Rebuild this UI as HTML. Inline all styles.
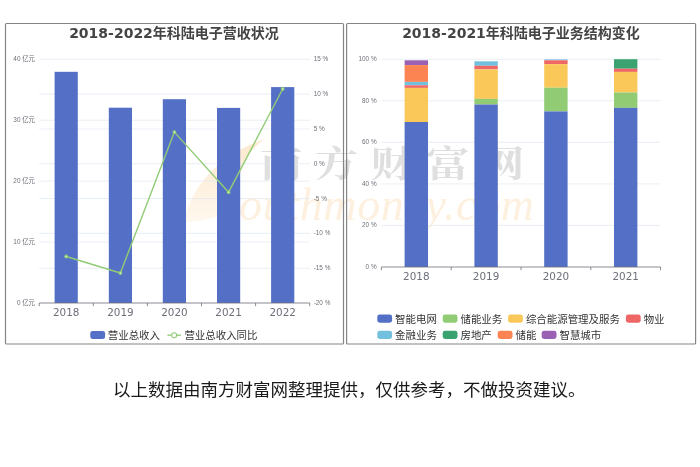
<!DOCTYPE html>
<html lang="zh-CN"><head><meta charset="utf-8"><title>科陆电子</title>
<style>
html,body{margin:0;padding:0;background:#fff;}
body{width:700px;height:467px;overflow:hidden;position:relative;}
svg{position:absolute;left:0;top:0;display:block;will-change:transform;}
.ttl{font-family:"DejaVu Sans","Liberation Sans","Noto Sans CJK SC",sans-serif;font-weight:bold;font-size:14px;fill:#444;}
.xl{font-family:"DejaVu Sans","Liberation Sans",sans-serif;font-size:10.4px;fill:#6e7079;}
.yl{font-family:"Liberation Sans","Noto Sans CJK SC",sans-serif;font-size:6.4px;fill:#6e7079;}
.lg{font-family:"Liberation Sans","Noto Sans CJK SC",sans-serif;font-size:10.45px;fill:#333;}
.cap{font-family:"Liberation Sans","Noto Sans CJK SC",sans-serif;font-size:17.5px;fill:#1a1a1a;}
</style></head><body>
<svg width="700" height="467" viewBox="0 0 700 467">
<rect x="0" y="0" width="700" height="467" fill="#fff"/>
<defs><linearGradient id="cg" x1="0" y1="0" x2="0" y2="1"><stop offset="0" stop-color="#fde9cf"/><stop offset="0.6" stop-color="#fef1e0"/><stop offset="1" stop-color="#fff8ef"/></linearGradient></defs>
<path d="M184 222 C 189 195, 211 157, 265 139 C 246 151, 236 175, 238 196 C 234 212, 212 222, 184 222 Z" fill="url(#cg)"/>
<text transform="translate(259.6,177) scale(1.2,1)" font-family="'Noto Serif CJK SC','Noto Sans CJK SC',serif" font-weight="bold" font-size="36" letter-spacing="10.2" fill="#dfdfdf">南方财富网</text>
<text x="239" y="219.5" font-family="'Liberation Serif',serif" font-style="italic" font-size="46" textLength="295" lengthAdjust="spacing" fill="#fdf0de">outhmoney.com</text>
<g fill="none" stroke="#858585" stroke-width="1.2">
<rect x="5.5" y="23.5" width="338" height="320.5" rx="1"/>
<rect x="346.6" y="23.5" width="349" height="320.5" rx="1"/>
</g>
<g stroke="#e0e6f1" stroke-width="0.7">
<line x1="39.2" y1="59.3" x2="309.7" y2="59.3"/>
<line x1="39.2" y1="94.11" x2="309.7" y2="94.11"/>
<line x1="39.2" y1="120.22" x2="309.7" y2="120.22"/>
<line x1="39.2" y1="128.93" x2="309.7" y2="128.93"/>
<line x1="39.2" y1="163.74" x2="309.7" y2="163.74"/>
<line x1="39.2" y1="181.15" x2="309.7" y2="181.15"/>
<line x1="39.2" y1="198.56" x2="309.7" y2="198.56"/>
<line x1="39.2" y1="233.37" x2="309.7" y2="233.37"/>
<line x1="39.2" y1="242.07" x2="309.7" y2="242.07"/>
<line x1="39.2" y1="268.19" x2="309.7" y2="268.19"/>
</g>
<g fill="#5470c6">
<rect x="54.6" y="71.8" width="23.2" height="231.2"/>
<rect x="108.8" y="107.7" width="23.2" height="195.3"/>
<rect x="162.8" y="99.2" width="23.2" height="203.8"/>
<rect x="217.0" y="107.9" width="23.2" height="195.1"/>
<rect x="271.1" y="87.1" width="23.2" height="215.9"/>
</g>
<g stroke="#6e7079" stroke-width="0.8" fill="none">
<line x1="39.2" y1="303.0" x2="309.7" y2="303.0"/>
<line x1="39.2" y1="303.0" x2="39.2" y2="306.2"/>
<line x1="93.3" y1="303.0" x2="93.3" y2="306.2"/>
<line x1="147.4" y1="303.0" x2="147.4" y2="306.2"/>
<line x1="201.5" y1="303.0" x2="201.5" y2="306.2"/>
<line x1="255.6" y1="303.0" x2="255.6" y2="306.2"/>
<line x1="309.7" y1="303.0" x2="309.7" y2="306.2"/>
</g>
<polyline points="66.2,256.5 120.4,273.0 174.4,132.1 228.6,192.2 282.7,89.0" fill="none" stroke="#91cc75" stroke-width="1.4" stroke-linejoin="round"/>
<circle cx="66.2" cy="256.5" r="1.35" fill="#dff2d5" stroke="#91cc75" stroke-width="1.1"/>
<circle cx="120.4" cy="273.0" r="1.35" fill="#dff2d5" stroke="#91cc75" stroke-width="1.1"/>
<circle cx="174.4" cy="132.1" r="1.35" fill="#dff2d5" stroke="#91cc75" stroke-width="1.1"/>
<circle cx="228.6" cy="192.2" r="1.35" fill="#dff2d5" stroke="#91cc75" stroke-width="1.1"/>
<circle cx="282.7" cy="89.0" r="1.35" fill="#dff2d5" stroke="#91cc75" stroke-width="1.1"/>
<text class="xl" x="66.2" y="316.2" text-anchor="middle">2018</text>
<text class="xl" x="120.4" y="316.2" text-anchor="middle">2019</text>
<text class="xl" x="174.4" y="316.2" text-anchor="middle">2020</text>
<text class="xl" x="228.6" y="316.2" text-anchor="middle">2021</text>
<text class="xl" x="282.7" y="316.2" text-anchor="middle">2022</text>
<text class="yl" x="35" y="61.3" text-anchor="end">40 亿元</text>
<text class="yl" x="35" y="122.2" text-anchor="end">30 亿元</text>
<text class="yl" x="35" y="183.1" text-anchor="end">20 亿元</text>
<text class="yl" x="35" y="244.1" text-anchor="end">10 亿元</text>
<text class="yl" x="35" y="305.0" text-anchor="end">0 亿元</text>
<text class="yl" x="313.7" y="61.3">15 %</text>
<text class="yl" x="313.7" y="96.1">10 %</text>
<text class="yl" x="313.7" y="130.9">5 %</text>
<text class="yl" x="313.7" y="165.7">0 %</text>
<text class="yl" x="313.7" y="200.6">-5 %</text>
<text class="yl" x="313.7" y="235.4">-10 %</text>
<text class="yl" x="313.7" y="270.2">-15 %</text>
<text class="yl" x="313.7" y="305.0">-20 %</text>
<text class="ttl" x="174" y="38.4" text-anchor="middle">2018-2022年科陆电子营收状况</text>
<rect x="90.3" y="330.9" width="14.8" height="8.2" rx="2.4" fill="#5470c6"/>
<text class="lg" x="107.8" y="338.9">营业总收入</text>
<line x1="167.4" y1="335.2" x2="181" y2="335.2" stroke="#91cc75" stroke-width="1.3"/>
<circle cx="174.2" cy="335.2" r="2.5" fill="#fff" stroke="#91cc75" stroke-width="1.1"/>
<text class="lg" x="184.4" y="338.9">营业总收入同比</text>
<g stroke="#e0e6f1" stroke-width="0.7">
<line x1="381.4" y1="59.2" x2="660.6" y2="59.2"/>
<line x1="381.4" y1="100.8" x2="660.6" y2="100.8"/>
<line x1="381.4" y1="142.3" x2="660.6" y2="142.3"/>
<line x1="381.4" y1="183.9" x2="660.6" y2="183.9"/>
<line x1="381.4" y1="225.4" x2="660.6" y2="225.4"/>
</g>
<rect x="404.6" y="60.3" width="23.4" height="4.8" fill="#9a60b4"/>
<rect x="404.6" y="65.1" width="23.4" height="16.8" fill="#fc8452"/>
<rect x="404.6" y="81.9" width="23.4" height="3.4" fill="#73c0de"/>
<rect x="404.6" y="85.3" width="23.4" height="2.6" fill="#ee6666"/>
<rect x="404.6" y="87.9" width="23.4" height="34.1" fill="#fac858"/>
<rect x="404.6" y="122.0" width="23.4" height="145.0" fill="#5470c6"/>
<rect x="474.4" y="61.3" width="23.4" height="4.5" fill="#73c0de"/>
<rect x="474.4" y="65.8" width="23.4" height="3.6" fill="#ee6666"/>
<rect x="474.4" y="69.4" width="23.4" height="29.5" fill="#fac858"/>
<rect x="474.4" y="98.9" width="23.4" height="5.6" fill="#91cc75"/>
<rect x="474.4" y="104.5" width="23.4" height="162.5" fill="#5470c6"/>
<rect x="544.2" y="59.4" width="23.4" height="0.9" fill="#73c0de"/>
<rect x="544.2" y="60.3" width="23.4" height="3.8" fill="#ee6666"/>
<rect x="544.2" y="64.1" width="23.4" height="23.6" fill="#fac858"/>
<rect x="544.2" y="87.7" width="23.4" height="23.7" fill="#91cc75"/>
<rect x="544.2" y="111.4" width="23.4" height="155.6" fill="#5470c6"/>
<rect x="614.0" y="59.2" width="23.4" height="9.5" fill="#3ba272"/>
<rect x="614.0" y="68.7" width="23.4" height="3.2" fill="#ee6666"/>
<rect x="614.0" y="71.9" width="23.4" height="20.6" fill="#fac858"/>
<rect x="614.0" y="92.5" width="23.4" height="15.3" fill="#91cc75"/>
<rect x="614.0" y="107.8" width="23.4" height="159.2" fill="#5470c6"/>
<g stroke="#6e7079" stroke-width="0.8" fill="none">
<line x1="381.4" y1="267.0" x2="660.6" y2="267.0"/>
<line x1="381.4" y1="267.0" x2="381.4" y2="270.2"/>
<line x1="451.2" y1="267.0" x2="451.2" y2="270.2"/>
<line x1="521.0" y1="267.0" x2="521.0" y2="270.2"/>
<line x1="590.8" y1="267.0" x2="590.8" y2="270.2"/>
<line x1="660.6" y1="267.0" x2="660.6" y2="270.2"/>
</g>
<text class="xl" x="416.3" y="279.9" text-anchor="middle">2018</text>
<text class="xl" x="486.1" y="279.9" text-anchor="middle">2019</text>
<text class="xl" x="555.9" y="279.9" text-anchor="middle">2020</text>
<text class="xl" x="625.7" y="279.9" text-anchor="middle">2021</text>
<text class="yl" x="376.6" y="61.0" text-anchor="end">100 %</text>
<text class="yl" x="376.6" y="102.6" text-anchor="end">80 %</text>
<text class="yl" x="376.6" y="144.1" text-anchor="end">60 %</text>
<text class="yl" x="376.6" y="185.7" text-anchor="end">40 %</text>
<text class="yl" x="376.6" y="227.2" text-anchor="end">20 %</text>
<text class="yl" x="376.6" y="268.8" text-anchor="end">0 %</text>
<text class="ttl" x="521" y="38.2" text-anchor="middle">2018-2021年科陆电子业务结构变化</text>
<rect x="377.3" y="314.5" width="14.8" height="8.2" rx="2.4" fill="#5470c6"/>
<text class="lg" x="395.1" y="322.6">智能电网</text>
<rect x="442.7" y="314.5" width="14.8" height="8.2" rx="2.4" fill="#91cc75"/>
<text class="lg" x="460.5" y="322.6">储能业务</text>
<rect x="508.1" y="314.5" width="14.8" height="8.2" rx="2.4" fill="#fac858"/>
<text class="lg" x="525.9" y="322.6">综合能源管理及服务</text>
<rect x="625.9" y="314.5" width="14.8" height="8.2" rx="2.4" fill="#ee6666"/>
<text class="lg" x="643.7" y="322.6">物业</text>
<rect x="377.3" y="330.8" width="14.8" height="8.2" rx="2.4" fill="#73c0de"/>
<text class="lg" x="395.1" y="338.9">金融业务</text>
<rect x="442.7" y="330.8" width="14.8" height="8.2" rx="2.4" fill="#3ba272"/>
<text class="lg" x="460.5" y="338.9">房地产</text>
<rect x="497.7" y="330.8" width="14.8" height="8.2" rx="2.4" fill="#fc8452"/>
<text class="lg" x="515.5" y="338.9">储能</text>
<rect x="541.7" y="330.8" width="14.8" height="8.2" rx="2.4" fill="#9a60b4"/>
<text class="lg" x="559.5" y="338.9">智慧城市</text>
<text class="cap" x="113.0" y="395.6">以上数据由南方财富网整理提供，仅供参考，不做投资建议。</text>
</svg></body></html>
